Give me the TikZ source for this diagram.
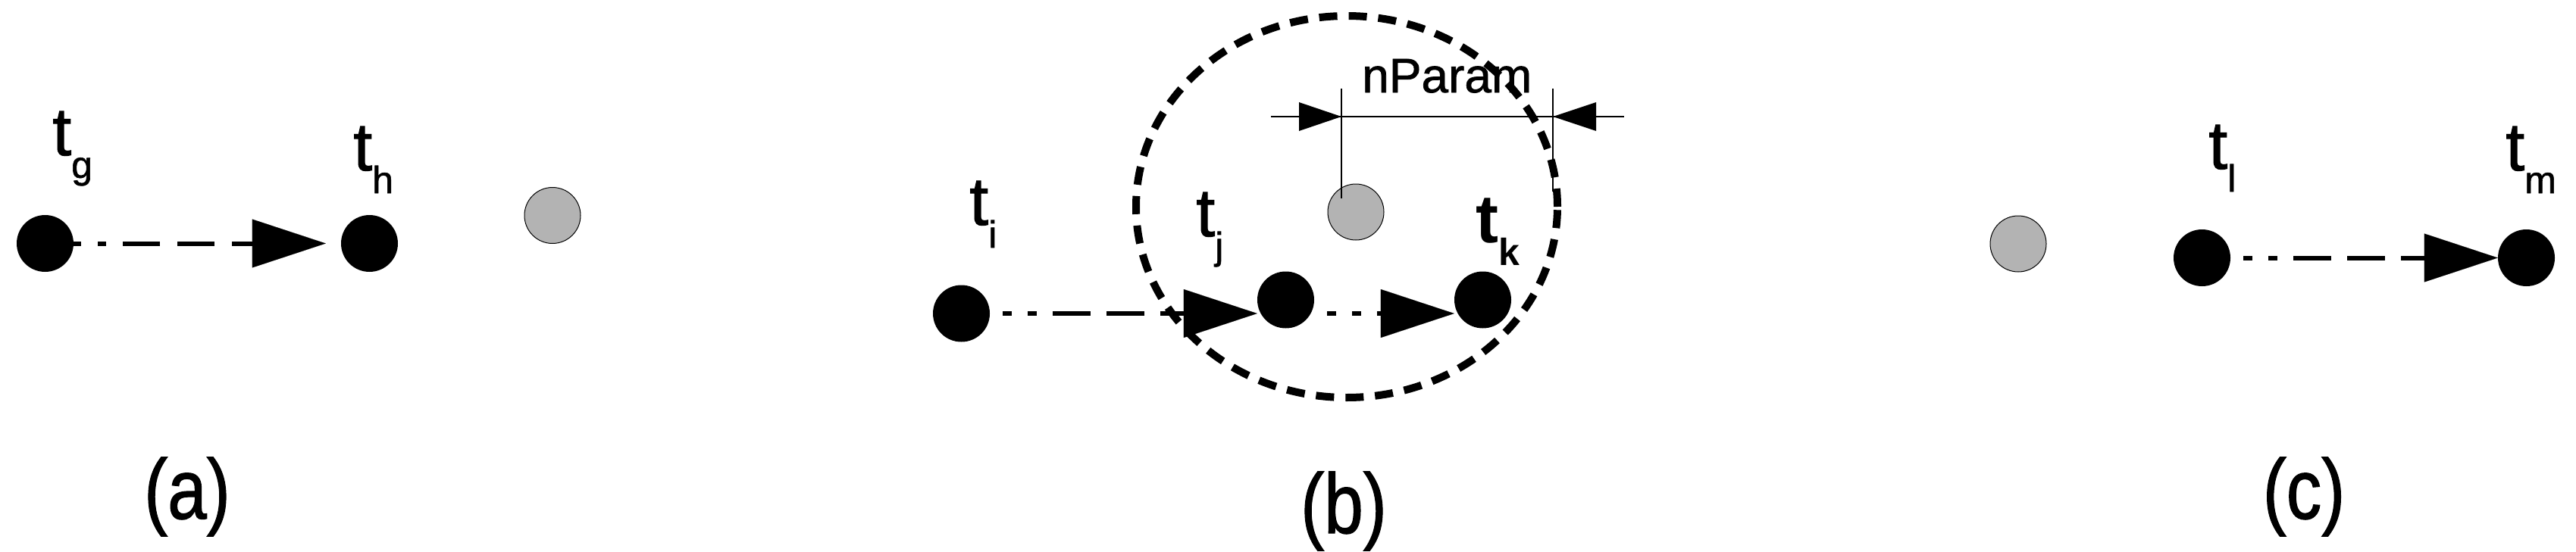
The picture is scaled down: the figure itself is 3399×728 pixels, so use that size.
\documentclass[tikz,border=0pt]{standalone}
\usepackage{fontspec}
\setmainfont{Liberation Sans}
\newfontfamily\heavyfont[FakeBold=1.2]{Liberation Sans}
\usetikzlibrary{arrows.meta}
\definecolor{dotgrey}{RGB}{179,179,179}
\newcommand{\tlab}[1]{{\heavyfont\fontsize{90}{90}\selectfont t}\raisebox{-30pt}{\heavyfont\fontsize{50}{50}\selectfont #1}}
\newcommand{\tlabbf}[1]{{\bfseries\fontsize{90}{90}\selectfont t}\raisebox{-30pt}{\bfseries\fontsize{50}{50}\selectfont #1}}
\begin{document}
\begin{tikzpicture}[x=1pt,y=-1pt,
  blackdot/.style={circle,fill=black,minimum size=75pt,inner sep=0pt},
  greydot/.style={circle,fill=dotgrey,draw=black,line width=1pt,minimum size=74pt,inner sep=0pt},
  lab/.style={anchor=base west,inner sep=0pt},
  caption/.style={anchor=base,inner sep=0pt},
  flowtip/.style={-{Triangle[length=97pt,width=64pt,line width=0.1pt]}},
  flowa/.style={flowtip,line width=6pt,dash pattern=on 10pt off 22pt on 11pt off 22pt on 49pt off 23pt on 49pt off 23pt on 49pt off 23pt on 49pt off 23pt},
  flowb/.style={flowtip,line width=6pt,dash pattern=on 0pt off 17pt on 12pt off 21pt on 12pt off 21pt on 50pt off 21pt on 50pt off 21pt on 50pt off 21pt on 50pt off 21pt},
  dimline/.style={line width=1.5pt},
  ring/.style={line width=10pt,dash pattern=on 24pt off 15pt},
]
\useasboundingbox (0,0) rectangle (3399,728);

% (b) dashed ring
\draw[ring] (1777,273) ellipse [x radius=278pt, y radius=252pt];

% dots
\node[blackdot] (tg) at (59.5,321.5) {};
\node[blackdot] (th) at (487.5,321.5) {};
\node[greydot]  (ga) at (729,284.5) {};

\node[blackdot] (ti) at (1268.5,414) {};
\node[blackdot] (tj) at (1696.5,396) {};
\node[blackdot] (tk) at (1956.5,396) {};
\node[greydot]  (gb) at (1789,280) {};

\node[greydot]  (gc) at (2663,322) {};
\node[blackdot] (tl) at (2905.5,340.5) {};
\node[blackdot] (tm) at (3333.5,340.5) {};

% labels
\node[lab] (ltg) at (69,205) {\tlab{g}};
\node[lab] (lth) at (466,225) {\tlab{h}};
\node[lab] (lti) at (1279,297) {\tlab{i}};
\node[lab] (ltj) at (1578,312) {\tlab{j}};
\node[lab] (ltk) at (1947,320) {\tlabbf{k}};
\node[lab] (ltl) at (2914,223) {\tlab{l}};
\node[lab] (ltm) at (3306,225) {\tlab{m}};

% arrows
\draw[flowa] (tg.east) -- ([xshift=-20pt]th.west);
\draw[flowb] (ti.east) -- (ti.east -| tj.west);
\draw[flowb] (tj.east |- ti.east) -- (tk.west |- ti.east);
\draw[flowb] (tl.east) -- (tm.west);

% dimension nParam
\coordinate (dl) at (1677,154);
\coordinate (dr) at (2143,154);
\coordinate (e1t) at (1770,117);
\coordinate (e1b) at (1770,262);
\coordinate (e2t) at (2049,117);
\coordinate (e2b) at (2049,253);
\draw[dimline] (dl) -- (dr);
\draw[dimline] (e1t) -- (e1b);
\draw[dimline] (e2t) -- (e2b);
\fill (1770,154) -- (1714,135) -- (1714,173) -- cycle;
\fill (2049,154) -- (2106,135) -- (2106,173) -- cycle;
\node[lab,font=\heavyfont\fontsize{64}{64}\selectfont] (np) at (1797,122) {nParam};

% captions
\node[caption] (capa) at (247,685) {\scalebox{0.83}[1]{\heavyfont\fontsize{112}{112}\selectfont (a)}};
\node[caption] (capb) at (1773,704) {\scalebox{0.83}[1]{\heavyfont\fontsize{112}{112}\selectfont (b)}};
\node[caption] (capc) at (3040,685) {\scalebox{0.83}[1]{\heavyfont\fontsize{112}{112}\selectfont (c)}};
\end{tikzpicture}
\end{document}
